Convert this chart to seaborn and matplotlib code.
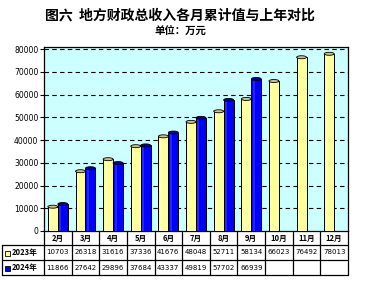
import numpy as np
import pandas as pd
import matplotlib
matplotlib.use("Agg")
import matplotlib.pyplot as plt
import seaborn as sns
from matplotlib.patches import Ellipse, Rectangle

months = ["2月", "3月", "4月", "5月", "6月", "7月", "8月", "9月", "10月", "11月", "12月"]
series = ["2023年", "2024年"]
v2023 = [10703, 26318, 31616, 37336, 41676, 48048, 52711, 58134, 66023, 76492, 78013]
v2024 = [11866, 27642, 29896, 37684, 43337, 49819, 57702, 66939, np.nan, np.nan, np.nan]
yticks = [0, 10000, 20000, 30000, 40000, 50000, 60000, 70000, 80000]
title = "图六  地方财政总收入各月累计值与上年对比"
subtitle = "单位：万元"
colors = ["#FFFF99", "#0000FF"]
cap_colors = ["#C8C088", "#0000A0"]

sns.set_theme(style="white")
plt.rcParams['font.family'] = ['Noto Sans CJK SC', 'DejaVu Sans']
plt.rcParams['text.color'] = 'black'
plt.rcParams['xtick.color'] = 'black'
plt.rcParams['ytick.color'] = 'black'
plt.rcParams['axes.labelcolor'] = 'black'

W, H = 376, 284
fig = plt.figure(figsize=(W / 100, H / 100), dpi=100)
fig.patch.set_facecolor("white")

L, R, T, B = 44, 348, 47, 231
ax = fig.add_axes([L / W, 1 - B / H, (R - L) / W, (B - T) / H])

df = pd.DataFrame({
    "month": months * 2,
    "year": [series[0]] * len(months) + [series[1]] * len(months),
    "value": v2023 + v2024,
})
sns.barplot(data=df, x="month", y="value", hue="year", order=months,
            hue_order=series, palette=colors, width=0.72, gap=0,
            edgecolor="black", linewidth=0.7, saturation=1, legend=False,
            ax=ax, zorder=3)

ymax = 81000
ax.set_ylim(0, ymax)
ax.set_xlim(-0.5, len(months) - 0.5)
ax.set_facecolor("#CCFFFF")
ax.set_yticks(yticks)
ax.set_yticklabels([str(v) for v in yticks], fontsize=5.5, family="DejaVu Sans")
ax.tick_params(axis="y", length=3, width=0.8, pad=1, direction="out", left=True,
               color="black", labelcolor="black")
ax.set_xticks([])
ax.set_xlabel("")
ax.set_ylabel("")
for y in yticks[1:]:
    ax.axhline(y, color="black", linestyle=(0, (4, 3)), linewidth=0.8, zorder=1)
for s in ax.spines.values():
    s.set_color("black")
    s.set_linewidth(0.9)

# cylinder caps and highlight
cap_h = 3.0 * ymax / (B - T)
for i, cont in enumerate(ax.containers):
    for p in cont.patches:
        h = p.get_height()
        if not np.isfinite(h) or h == 0:
            continue
        x0, w = p.get_x(), p.get_width()
        hl = Rectangle((x0 + w * 0.15, 0), w * 0.2, h, facecolor="white",
                       alpha=0.35 if i == 0 else 0.15, edgecolor="none", zorder=4)
        ax.add_patch(hl)
        e = Ellipse((x0 + w / 2, h), w, cap_h, facecolor=cap_colors[i],
                    edgecolor="black", linewidth=0.6, zorder=5)
        ax.add_patch(e)

# overlay axes in pixel coordinates for titles and table
ov = fig.add_axes([0, 0, 1, 1], facecolor="none")
ov.set_xlim(0, W)
ov.set_ylim(H, 0)
ov.axis("off")

ov.text(180, 15, title, ha="center", va="center", fontsize=10, fontweight="bold", color="black")
ov.text(180, 32, subtitle, ha="center", va="center", fontsize=7.5, fontweight="bold", color="black")

rows = [231, 245, 260, 275]
n = len(months)
cw = (R - L) / n
lw = 0.9
for k in range(n + 1):
    ov.plot([L + k * cw] * 2, [rows[0], rows[3]], color="black", lw=lw)
for y in rows[1:]:
    ov.plot([2, R], [y, y], color="black", lw=lw)
ov.plot([2, 2], [rows[1], rows[3]], color="black", lw=lw)

for k, m in enumerate(months):
    cx = L + (k + 0.5) * cw
    ov.text(cx, (rows[0] + rows[1]) / 2, m, ha="center", va="center",
            fontsize=5.5, fontweight="bold", color="black")
    for r, vals in enumerate([v2023, v2024]):
        v = vals[k]
        if np.isfinite(v):
            ov.text(cx, (rows[r + 1] + rows[r + 2]) / 2, f"{int(v)}", ha="center",
                    va="center", fontsize=5, family="DejaVu Sans", color="black")

for r, name in enumerate(series):
    cy = (rows[r + 1] + rows[r + 2]) / 2
    ov.add_patch(Rectangle((5, cy - 2), 5, 5, facecolor=colors[r], edgecolor="black", lw=0.6))
    ov.text(12, cy, name, ha="left", va="center", fontsize=5.5, fontweight="bold", color="black")

fig.savefig("out.png", dpi=100)
